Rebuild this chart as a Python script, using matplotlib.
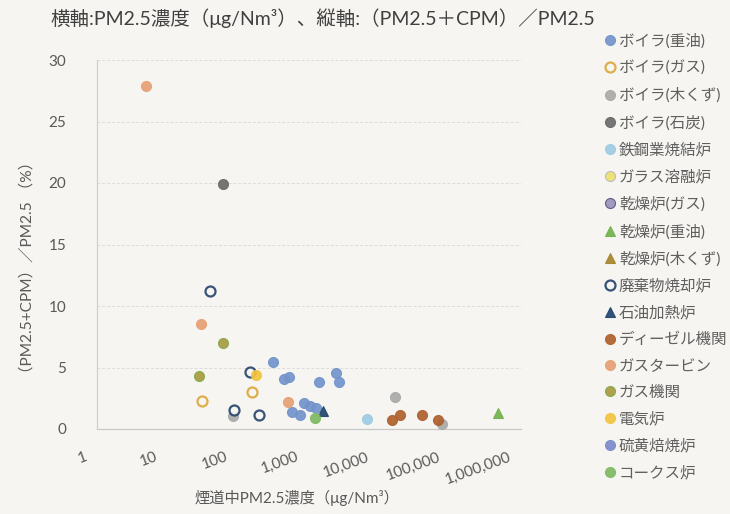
import matplotlib
matplotlib.use("Agg")
import matplotlib.pyplot as plt
import matplotlib.transforms as mtransforms
from matplotlib.ticker import FixedLocator, NullLocator

plt.rcParams['font.family'] = ['Lato', 'Noto Sans CJK JP', 'DejaVu Sans']

# ---- data: PM2.5 concentration in flue gas (µg/Nm3) vs (PM2.5+CPM)/PM2.5 ----
boiler_oil_x = [311, 440, 516, 1395, 2377, 2650, 844, 1050, 1237, 578, 741]
boiler_oil_y = [5.41, 4.08, 4.19, 3.79, 4.52, 3.79, 2.08, 1.86, 1.73, 1.40, 1.14]
boiler_gas_x = [30.9, 156]
boiler_gas_y = [2.29, 2.98]
boiler_wood_x = [84, 16500, 75000]
boiler_wood_y = [1.05, 2.62, 0.38]
boiler_coal_x = [61]
boiler_coal_y = [19.9]
sinter_x = [6550]
sinter_y = [0.79]
glass_x, glass_y = [], []
dryer_gas_x, dryer_gas_y = [], []
dryer_oil_x = [468000]
dryer_oil_y = [1.27]
dryer_wood_x, dryer_wood_y = [], []
incinerator_x = [40, 148, 86, 197]
incinerator_y = [11.2, 4.65, 1.54, 1.11]
oil_heater_x = [1590]
oil_heater_y = [1.48]
diesel_x = [15100, 19400, 40300, 68000]
diesel_y = [0.73, 1.14, 1.14, 0.73]
gas_turbine_x = [4.9, 29.6, 507]
gas_turbine_y = [27.9, 8.51, 2.16]
gas_engine_x = [59.9, 28]
gas_engine_y = [7.0, 4.30]
electric_x = [180]
electric_y = [4.35]
sulfur_x, sulfur_y = [], []
coke_x = [1197]
coke_y = [0.87]

x_tick_values = [1, 10, 100, 1000, 10000, 100000, 1000000]
x_tick_labels = ["1", "10", "100", "1,000", "10,000", "100,000", "1,000,000"]
y_tick_values = [0, 5, 10, 15, 20, 25, 30]

BG = '#f6f5f1'
series = [
    ("ボイラ(重油)", boiler_oil_x, boiler_oil_y, 'o', '#7394cb', '#7394cb'),
    ("ボイラ(ガス)", boiler_gas_x, boiler_gas_y, 'o', BG, '#dca83a'),
    ("ボイラ(木くず)", boiler_wood_x, boiler_wood_y, 'o', '#a9a9a9', '#a9a9a9'),
    ("ボイラ(石炭)", boiler_coal_x, boiler_coal_y, 'o', '#6a6a6a', '#6a6a6a'),
    ("鉄鋼業焼結炉", sinter_x, sinter_y, 'o', '#9dcbe2', '#9dcbe2'),
    ("ガラス溶融炉", glass_x, glass_y, 'o', '#eee06a', '#b8b8b8'),
    ("乾燥炉(ガス)", dryer_gas_x, dryer_gas_y, 'o', '#9a93be', '#55557a'),
    ("乾燥炉(重油)", dryer_oil_x, dryer_oil_y, '^', '#72b24c', '#72b24c'),
    ("乾燥炉(木くず)", dryer_wood_x, dryer_wood_y, '^', '#a8842c', '#a8842c'),
    ("廃棄物焼却炉", incinerator_x, incinerator_y, 'o', BG, '#27456e'),
    ("石油加熱炉", oil_heater_x, oil_heater_y, '^', '#22466e', '#22466e'),
    ("ディーゼル機関", diesel_x, diesel_y, 'o', '#b0602e', '#b0602e'),
    ("ガスタービン", gas_turbine_x, gas_turbine_y, 'o', '#e6a073', '#e6a073'),
    ("ガス機関", gas_engine_x, gas_engine_y, 'o', '#a99a40', '#7fab4a'),
    ("電気炉", electric_x, electric_y, 'o', '#f2c43e', '#f2c43e'),
    ("硫黄焙焼炉", sulfur_x, sulfur_y, 'o', '#7b8ccb', '#7b8ccb'),
    ("コークス炉", coke_x, coke_y, 'o', '#7dba63', '#7dba63'),
]

fig = plt.figure(figsize=(7.3, 5.14), dpi=100, facecolor=BG)
W, H = 730, 514
ax = fig.add_axes([97 / W, 1 - 429 / H, (521 - 97) / W, (429 - 60) / H])
ax.set_facecolor(BG)

handles = []
for name, xs, ys, mk, fc, ec in series:
    open_marker = fc == BG
    h, = ax.plot(xs, ys, linestyle='none', marker=mk,
                 markersize=7.2 if mk == 'o' else 7.6,
                 markerfacecolor=fc, markeredgecolor=ec,
                 markeredgewidth=1.6 if open_marker else 0.8,
                 alpha=0.92, label=name, zorder=3)
    handles.append(h)

ax.set_xscale('log')
ax.set_xlim(1, 1000000)
ax.set_ylim(0, 30)
ax.xaxis.set_major_locator(FixedLocator(x_tick_values))
ax.xaxis.set_minor_locator(NullLocator())
ax.set_xticklabels(x_tick_labels)
ax.set_yticks(y_tick_values)
ax.set_yticklabels([str(v) for v in y_tick_values])

for spine in ['top', 'right']:
    ax.spines[spine].set_visible(False)
ax.spines['left'].set_color('#cfcfcf')
ax.spines['bottom'].set_color('#c8c8c8')
ax.spines['left'].set_linewidth(0.9)
ax.spines['bottom'].set_linewidth(0.9)

ax.yaxis.grid(True, color='#dcdcdc', linestyle=(0, (3, 2)), linewidth=0.7)
ax.set_axisbelow(True)
ax.tick_params(axis='both', length=0, colors='#595959', labelsize=11)
ax.tick_params(axis='y', pad=22)
ax.tick_params(axis='x', pad=15)

offset = mtransforms.ScaledTranslation(-13 / 100, 0, fig.dpi_scale_trans)
for lbl in ax.get_xticklabels():
    lbl.set_rotation(20)
    lbl.set_rotation_mode('anchor')
    lbl.set_ha('right')
    lbl.set_va('top')
    lbl.set_transform(lbl.get_transform() + offset)

leg = fig.legend(handles=handles, loc='upper left',
                 bbox_to_anchor=(605 / W, 1 - 33 / H),
                 frameon=False, fontsize=11.2, labelcolor='#5f5f5f',
                 handlelength=0.6, handletextpad=0.3, labelspacing=0.785,
                 borderaxespad=0, borderpad=0)

fig.text(50 / W, 1 - 18 / H,
         "横軸:PM2.5濃度（μg/Nm³）、縦軸:（PM2.5＋CPM）／PM2.5",
         fontsize=14, color='#404040', ha='left', va='center')
fig.text(27 / W, 1 - 267 / H, "（PM2.5+CPM）／PM2.5 （%）",
         rotation=90, fontsize=11.2, color='#595959', ha='center', va='center')
fig.text(297 / W, 1 - 498 / H, "煙道中PM2.5濃度（μg/Nm³）",
         fontsize=11, color='#595959', ha='center', va='center')

fig.savefig("out.png", dpi=100, facecolor=BG)
